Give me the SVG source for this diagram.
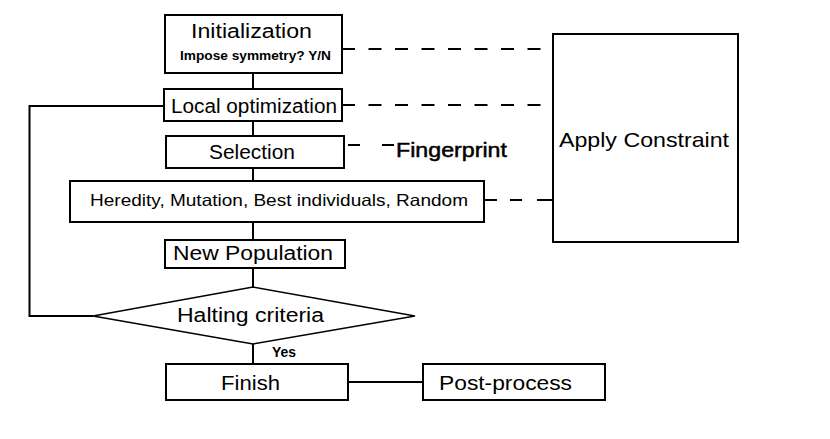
<svg xmlns="http://www.w3.org/2000/svg" width="830" height="439" viewBox="0 0 830 439">
<style>
.box{fill:#fff;stroke:#000;stroke-width:2}
.dia{fill:#fff;stroke:#000;stroke-width:1.5}
.ln{fill:none;stroke:#000;stroke-width:2}
.dash{fill:none;stroke:#000;stroke-width:2;stroke-dasharray:13 13.5}
text{font-family:"Liberation Sans",Arial,sans-serif;fill:#000}
.t20{font-size:20px}
.t21{font-size:21px}
.fp{font-size:21px;stroke:#000;stroke-width:0.5}
.t17{font-size:16.5px}
.sm{font-size:13.5px;font-weight:bold}
.yes{font-size:15px;font-weight:bold}
</style>
<rect width="830" height="439" fill="#fff"/>
<g id="connectors">
<line class="ln" x1="253" y1="73" x2="253" y2="89"/>
<line class="ln" x1="253" y1="121" x2="253" y2="136"/>
<line class="ln" x1="253" y1="168" x2="253" y2="181"/>
<line class="ln" x1="253" y1="222" x2="253" y2="240"/>
<line class="ln" x1="253" y1="268" x2="253" y2="288"/>
<line class="ln" x1="253" y1="344" x2="253" y2="364"/>
<polyline class="ln" points="164,106 29.5,106 29.5,316 93,316"/>
<line class="ln" x1="348" y1="382" x2="423" y2="382"/>
<line class="dash" x1="342" y1="49" x2="553" y2="49"/>
<line class="dash" x1="342" y1="105" x2="553" y2="105"/>
<line class="ln" x1="348" y1="145" x2="360" y2="145"/>
<line class="ln" x1="382" y1="145" x2="394" y2="145"/>
<line class="ln" x1="484" y1="200" x2="497" y2="200"/>
<line class="ln" x1="510" y1="200" x2="522" y2="200"/>
<line class="ln" x1="537" y1="200" x2="553" y2="200"/>
</g>
<g id="init">
<rect class="box" x="165" y="15" width="177" height="58"/>
<text class="t20" x="191" y="37.5" textLength="121" lengthAdjust="spacingAndGlyphs">Initialization</text>
<text class="sm" x="180" y="60" textLength="151" lengthAdjust="spacingAndGlyphs">Impose symmetry? Y/N</text>
</g>
<g id="localopt">
<rect class="box" x="164" y="89" width="178" height="32"/>
<text class="t20" x="171" y="113" textLength="166" lengthAdjust="spacingAndGlyphs">Local optimization</text>
</g>
<g id="selection">
<rect class="box" x="166" y="136" width="178" height="32"/>
<text class="t20" x="209" y="159" textLength="86" lengthAdjust="spacingAndGlyphs">Selection</text>
</g>
<g id="fingerprint">
<text class="fp" x="396" y="157" textLength="111" lengthAdjust="spacingAndGlyphs">Fingerprint</text>
</g>
<g id="heredity">
<rect class="box" x="70" y="181" width="414" height="41"/>
<text class="t17" x="90" y="206" textLength="378" lengthAdjust="spacingAndGlyphs">Heredity, Mutation, Best individuals, Random</text>
</g>
<g id="newpop">
<rect class="box" x="165" y="240" width="180" height="28"/>
<text class="t20" x="173" y="259.5" textLength="160" lengthAdjust="spacingAndGlyphs">New Population</text>
</g>
<g id="halting">
<polygon class="dia" points="93,316 253,287 415,316 253,344"/>
<text class="t20" x="177" y="322" textLength="147" lengthAdjust="spacingAndGlyphs">Halting criteria</text>
</g>
<g id="yes">
<text class="yes" x="272" y="357" textLength="24" lengthAdjust="spacingAndGlyphs">Yes</text>
</g>
<g id="finish">
<rect class="box" x="166" y="364" width="182" height="36"/>
<text class="t20" x="221" y="390" textLength="59" lengthAdjust="spacingAndGlyphs">Finish</text>
</g>
<g id="postprocess">
<rect class="box" x="423" y="364" width="182" height="36"/>
<text class="t20" x="439" y="389.5" textLength="133" lengthAdjust="spacingAndGlyphs">Post-process</text>
</g>
<g id="constraint">
<rect class="box" x="553" y="34" width="185" height="208"/>
<text class="t21" x="559" y="147" textLength="170" lengthAdjust="spacingAndGlyphs">Apply Constraint</text>
</g>
</svg>
